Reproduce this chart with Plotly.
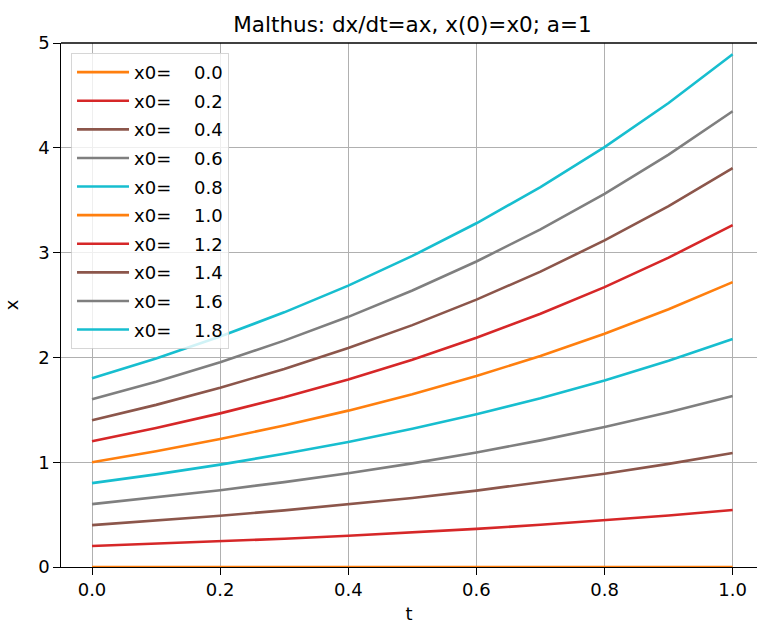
import plotly.graph_objects as go

t = [0.0, 0.1, 0.2, 0.3, 0.4, 0.5, 0.6, 0.7, 0.8, 0.9, 1.0]
x0_values = [0.0, 0.2, 0.4, 0.6, 0.8, 1.0, 1.2, 1.4, 1.6, 1.8]

x_00 = [0.000, 0.000, 0.000, 0.000, 0.000, 0.000, 0.000, 0.000, 0.000, 0.000, 0.000]
x_02 = [0.200, 0.221, 0.244, 0.270, 0.298, 0.330, 0.364, 0.403, 0.445, 0.492, 0.544]
x_04 = [0.400, 0.442, 0.489, 0.540, 0.597, 0.659, 0.729, 0.806, 0.890, 0.984, 1.087]
x_06 = [0.600, 0.663, 0.733, 0.810, 0.895, 0.989, 1.093, 1.208, 1.335, 1.476, 1.631]
x_08 = [0.800, 0.884, 0.977, 1.080, 1.193, 1.319, 1.458, 1.611, 1.780, 1.968, 2.175]
x_10 = [1.000, 1.105, 1.221, 1.350, 1.492, 1.649, 1.822, 2.014, 2.226, 2.460, 2.718]
x_12 = [1.200, 1.326, 1.466, 1.620, 1.790, 1.978, 2.187, 2.416, 2.671, 2.952, 3.262]
x_14 = [1.400, 1.547, 1.710, 1.890, 2.089, 2.308, 2.551, 2.819, 3.116, 3.444, 3.806]
x_16 = [1.600, 1.768, 1.954, 2.160, 2.387, 2.638, 2.915, 3.222, 3.561, 3.935, 4.349]
x_18 = [1.800, 1.989, 2.199, 2.430, 2.685, 2.968, 3.280, 3.625, 4.006, 4.427, 4.893]

series = [x_00, x_02, x_04, x_06, x_08, x_10, x_12, x_14, x_16, x_18]
colors = ["#ff7f0e", "#d62728", "#8c564b", "#7f7f7f", "#17becf"]

x_ticks = [0.0, 0.2, 0.4, 0.6, 0.8, 1.0]
y_ticks = [0, 1, 2, 3, 4, 5]

FONT = "DejaVu Sans"
fig = go.Figure()
for i, (x0, ys) in enumerate(zip(x0_values, series)):
    fig.add_trace(go.Scatter(
        x=t, y=ys, mode="lines",
        name="x0=\u00a0\u00a0\u00a0\u00a0" + f"{x0:.1f}",
        legendgroup=f"g{i}",
        line=dict(color=colors[i % 5], width=2.6),
    ))

axis_common = dict(
    showgrid=True, gridcolor="#b0b0b0", gridwidth=1.4,
    showline=True, linecolor="black", linewidth=1.4,
    ticks="outside", ticklen=6.5, tickwidth=1.4, tickcolor="black",
    zeroline=False, tickfont=dict(family=FONT, size=18, color="black"),
)

fig.update_layout(
    width=757, height=624,
    margin=dict(l=61, r=0, t=43, b=57),
    plot_bgcolor="white", paper_bgcolor="white",
    title=dict(text="Malthus: dx/dt=ax, x(0)=x0; a=1",
               font=dict(family=FONT, size=21.5, color="black"),
               x=(412.5) / 757, xanchor="center", y=1 - 24 / 624, yanchor="middle"),
    xaxis=dict(range=[-0.0484, 1.038], tickvals=x_ticks,
               ticktext=[f"{v:.1f}" for v in x_ticks],
               title=dict(text="t", font=dict(family=FONT, size=18, color="black"), standoff=8),
               **axis_common),
    yaxis=dict(range=[0, 5], tickvals=y_ticks, ticktext=[str(v) for v in y_ticks],
               title=dict(text="x", font=dict(family=FONT, size=18, color="black"), standoff=14),
               **axis_common),
    legend=dict(x=0.0144, y=0.981, xanchor="left", yanchor="top",
                bgcolor="rgba(255,255,255,0.8)", bordercolor="rgba(204,204,204,0.8)",
                borderwidth=1, font=dict(family=FONT, size=18, color="black"),
                itemwidth=52, tracegroupgap=2.2),
    shapes=[dict(type="line", xref="paper", yref="paper", x0=0, x1=1, y0=1, y1=1,
                 line=dict(color="black", width=1.4))],
)

fig.write_html("out.html")
